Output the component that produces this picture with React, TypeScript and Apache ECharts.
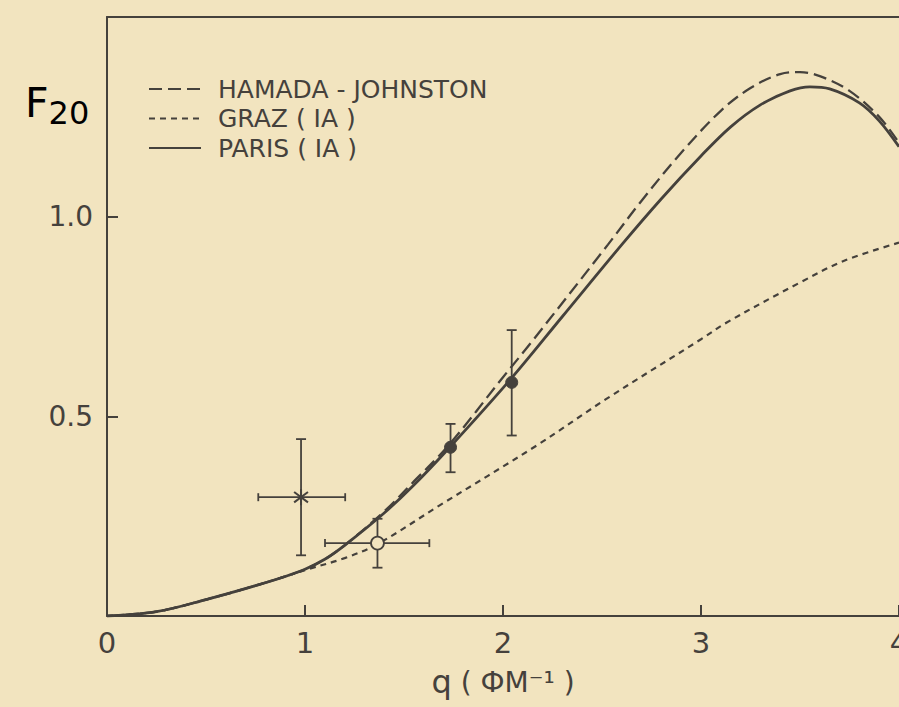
import React, { useEffect, useRef } from "react";
import * as echarts from "echarts";

const INK = "#45413c";
const PAPER = "#f2e4bf";
const FONT = "DejaVu Sans";

const legendNames = ["HAMADA - JOHNSTON", "GRAZ ( IA )", "PARIS ( IA )"];
const xAxisTitle = "{q|q} ( ФМ⁻¹ )";
const yAxisTitleMain = "F";
const yAxisTitleSub = "20";
const yTickLabels = ["0.5", "1.0"];

// HAMADA - JOHNSTON (long dashes)
const qHamada = [0, 0.25, 0.5, 0.75, 0.9, 1.0, 1.1, 1.2, 1.4, 1.55, 1.73, 2.0, 2.136, 2.53, 2.7, 2.9, 3.1, 3.25, 3.4, 3.5, 3.6, 3.75, 3.9, 4.0];
const fHamada = [0, 0.011, 0.041, 0.076, 0.099, 0.117, 0.142, 0.177, 0.262, 0.337, 0.43, 0.598, 0.681, 0.93, 1.04, 1.16, 1.265, 1.322, 1.357, 1.362, 1.352, 1.315, 1.25, 1.185];

// GRAZ (IA) (short dashes)
const qGraz = [0, 0.25, 0.5, 0.75, 0.9, 1.0, 1.2, 1.366, 1.68, 2.17, 2.52, 3.0, 3.13, 3.5, 3.72, 4.0];
const fGraz = [0, 0.011, 0.041, 0.076, 0.099, 0.115, 0.145, 0.18, 0.277, 0.427, 0.543, 0.693, 0.735, 0.835, 0.889, 0.935];

// PARIS (IA) (solid)
const qParis = [0, 0.25, 0.5, 0.75, 0.9, 1.0, 1.1, 1.2, 1.4, 1.55, 1.73, 2.04, 2.3, 2.6, 2.8, 3.0, 3.15, 3.3, 3.45, 3.55, 3.65, 3.8, 3.9, 4.0];
const fParis = [0, 0.011, 0.041, 0.076, 0.099, 0.117, 0.142, 0.177, 0.258, 0.328, 0.422, 0.594, 0.75, 0.93, 1.045, 1.152, 1.225, 1.28, 1.315, 1.325, 1.32, 1.285, 1.24, 1.175];

// experimental points
const expQ = [0.98, 1.366, 1.735, 2.044];
const expF = [0.2975, 0.1825, 0.4225, 0.585];
const expFLow = [0.152, 0.121, 0.36, 0.452];
const expFHigh = [0.443, 0.2435, 0.481, 0.716];
const expQLow = [0.764, 1.101, 1.735, 2.044];
const expQHigh = [1.203, 1.628, 1.735, 2.044];
const expMarker = [0, 1, 2, 2]; // 0 asterisk, 1 open circle, 2 filled circle

const pairs = (xs: number[], ys: number[]) => xs.map((x, i) => [x, ys[i]]);

const renderItem = (params: any, api: any) => {
  const q = api.value(0);
  const f = api.value(1);
  const c = api.coord([q, f]);
  const lo = api.coord([q, api.value(2)]);
  const hi = api.coord([q, api.value(3)]);
  const ql = api.coord([api.value(4), f]);
  const qh = api.coord([api.value(5), f]);
  const kind = api.value(6);
  const ls = { stroke: INK, lineWidth: 1.8 };
  const cap = 5;
  const ch: any[] = [];
  ch.push({ type: "line", shape: { x1: c[0], y1: lo[1], x2: c[0], y2: hi[1] }, style: ls });
  ch.push({ type: "line", shape: { x1: c[0] - cap, y1: lo[1], x2: c[0] + cap, y2: lo[1] }, style: ls });
  ch.push({ type: "line", shape: { x1: c[0] - cap, y1: hi[1], x2: c[0] + cap, y2: hi[1] }, style: ls });
  if (qh[0] - ql[0] > 1) {
    ch.push({ type: "line", shape: { x1: ql[0], y1: c[1], x2: qh[0], y2: c[1] }, style: ls });
    ch.push({ type: "line", shape: { x1: ql[0], y1: c[1] - 4, x2: ql[0], y2: c[1] + 4 }, style: ls });
    ch.push({ type: "line", shape: { x1: qh[0], y1: c[1] - 4, x2: qh[0], y2: c[1] + 4 }, style: ls });
  }
  if (kind === 0) {
    const r = 8;
    const dx = r * Math.cos(Math.PI / 6);
    const dy = r * Math.sin(Math.PI / 6) * 1.3;
    const st = { stroke: INK, lineWidth: 2 };
    ch.push({ type: "line", shape: { x1: c[0] - dx, y1: c[1] - dy, x2: c[0] + dx, y2: c[1] + dy }, style: st });
    ch.push({ type: "line", shape: { x1: c[0] - dx, y1: c[1] + dy, x2: c[0] + dx, y2: c[1] - dy }, style: st });
    ch.push({ type: "line", shape: { x1: c[0], y1: c[1] - r, x2: c[0], y2: c[1] + r }, style: st });
  } else if (kind === 1) {
    ch.push({ type: "circle", shape: { cx: c[0], cy: c[1], r: 6.5 }, style: { fill: PAPER, stroke: INK, lineWidth: 1.8 } });
  } else {
    ch.push({ type: "circle", shape: { cx: c[0], cy: c[1], r: 6 }, style: { fill: INK, stroke: INK, lineWidth: 1 } });
  }
  return { type: "group", children: ch };
};

export default function App() {
  const ref = useRef<HTMLDivElement>(null);
  useEffect(() => {
    document.body.style.margin = "0";
    document.body.style.background = PAPER;
    const chart = echarts.init(ref.current!, undefined, { renderer: "svg" });
    const axisLine = { show: true, lineStyle: { color: INK, width: 2 } };
    const option: any = {
      animation: false,
      backgroundColor: PAPER,
      grid: { left: 107, right: 0, top: 17, bottom: 91, containLabel: false, outerBoundsMode: "none" },
      legend: {
        data: legendNames,
        orient: "vertical",
        left: 148,
        top: 75,
        padding: 0,
        itemWidth: 52,
        itemHeight: 14,
        itemGap: 1.5,
        selectedMode: false,
        itemStyle: { opacity: 0 },
        textStyle: { fontFamily: FONT, fontSize: 25, color: INK, lineHeight: 28, padding: [0, 0, 0, 12] },
      },
      xAxis: [
        {
          type: "value",
          min: 0,
          max: 4,
          interval: 1,
          position: "bottom",
          axisLine,
          axisTick: { show: true, inside: true, length: 11, lineStyle: { color: INK, width: 2 } },
          splitLine: { show: false },
          axisLabel: { fontFamily: FONT, fontSize: 29, color: INK, margin: 12, showMaxLabel: true, showMinLabel: true },
          name: xAxisTitle,
          nameLocation: "middle",
          nameGap: 50,
          nameTextStyle: {
            fontFamily: FONT,
            fontSize: 28,
            color: INK,
            rich: { q: { fontFamily: FONT, fontSize: 32, color: INK } },
          },
        },
        {
          type: "value",
          min: 0,
          max: 4,
          position: "top",
          axisLine,
          axisTick: { show: false },
          axisLabel: { show: false },
          splitLine: { show: false },
        },
      ],
      yAxis: {
        type: "value",
        min: 0,
        max: 1.5,
        interval: 0.5,
        axisLine,
        axisTick: { show: true, inside: true, length: 11, lineStyle: { color: INK, width: 2 } },
        splitLine: { show: false },
        axisLabel: {
          fontFamily: FONT,
          fontSize: 28,
          color: INK,
          margin: 14,
          formatter: (v: number) => (Math.abs(v - 0.5) < 1e-6 ? yTickLabels[0] : Math.abs(v - 1) < 1e-6 ? yTickLabels[1] : ""),
        },
      },
      graphic: [
        {
          type: "text",
          left: 25,
          top: 82,
          style: {
            text: "{f|" + yAxisTitleMain + "}{s|" + yAxisTitleSub + "}",
            rich: {
              f: { fontFamily: FONT, fontSize: 41, lineHeight: 42, color: INK, verticalAlign: "bottom", padding: [0, 0, 6, 0] },
              s: { fontFamily: FONT, fontSize: 32, lineHeight: 32, color: INK, verticalAlign: "bottom" },
            },
          },
        },
      ],
      series: [
        {
          name: legendNames[0],
          type: "line",
          data: pairs(qHamada, fHamada),
          smooth: 0.35,
          symbol: "none",
          color: INK,
          lineStyle: { color: INK, width: 2.3, type: [13, 6] },
        },
        {
          name: legendNames[1],
          type: "line",
          data: pairs(qGraz, fGraz),
          smooth: 0.35,
          symbol: "none",
          color: INK,
          lineStyle: { color: INK, width: 2.2, type: [6, 5] },
        },
        {
          name: legendNames[2],
          type: "line",
          data: pairs(qParis, fParis),
          smooth: 0.35,
          symbol: "none",
          color: INK,
          lineStyle: { color: INK, width: 2.8, type: "solid" },
        },
        {
          name: "data",
          type: "custom",
          renderItem,
          encode: { x: 0, y: 1 },
          data: expQ.map((q, i) => [q, expF[i], expFLow[i], expFHigh[i], expQLow[i], expQHigh[i], expMarker[i]]),
          z: 5,
        },
      ],
    };
    chart.setOption(option);
    return () => chart.dispose();
  }, []);
  return <div ref={ref} style={{ position: "fixed", left: 0, top: 0, width: 899, height: 707, background: PAPER }} />;
}
